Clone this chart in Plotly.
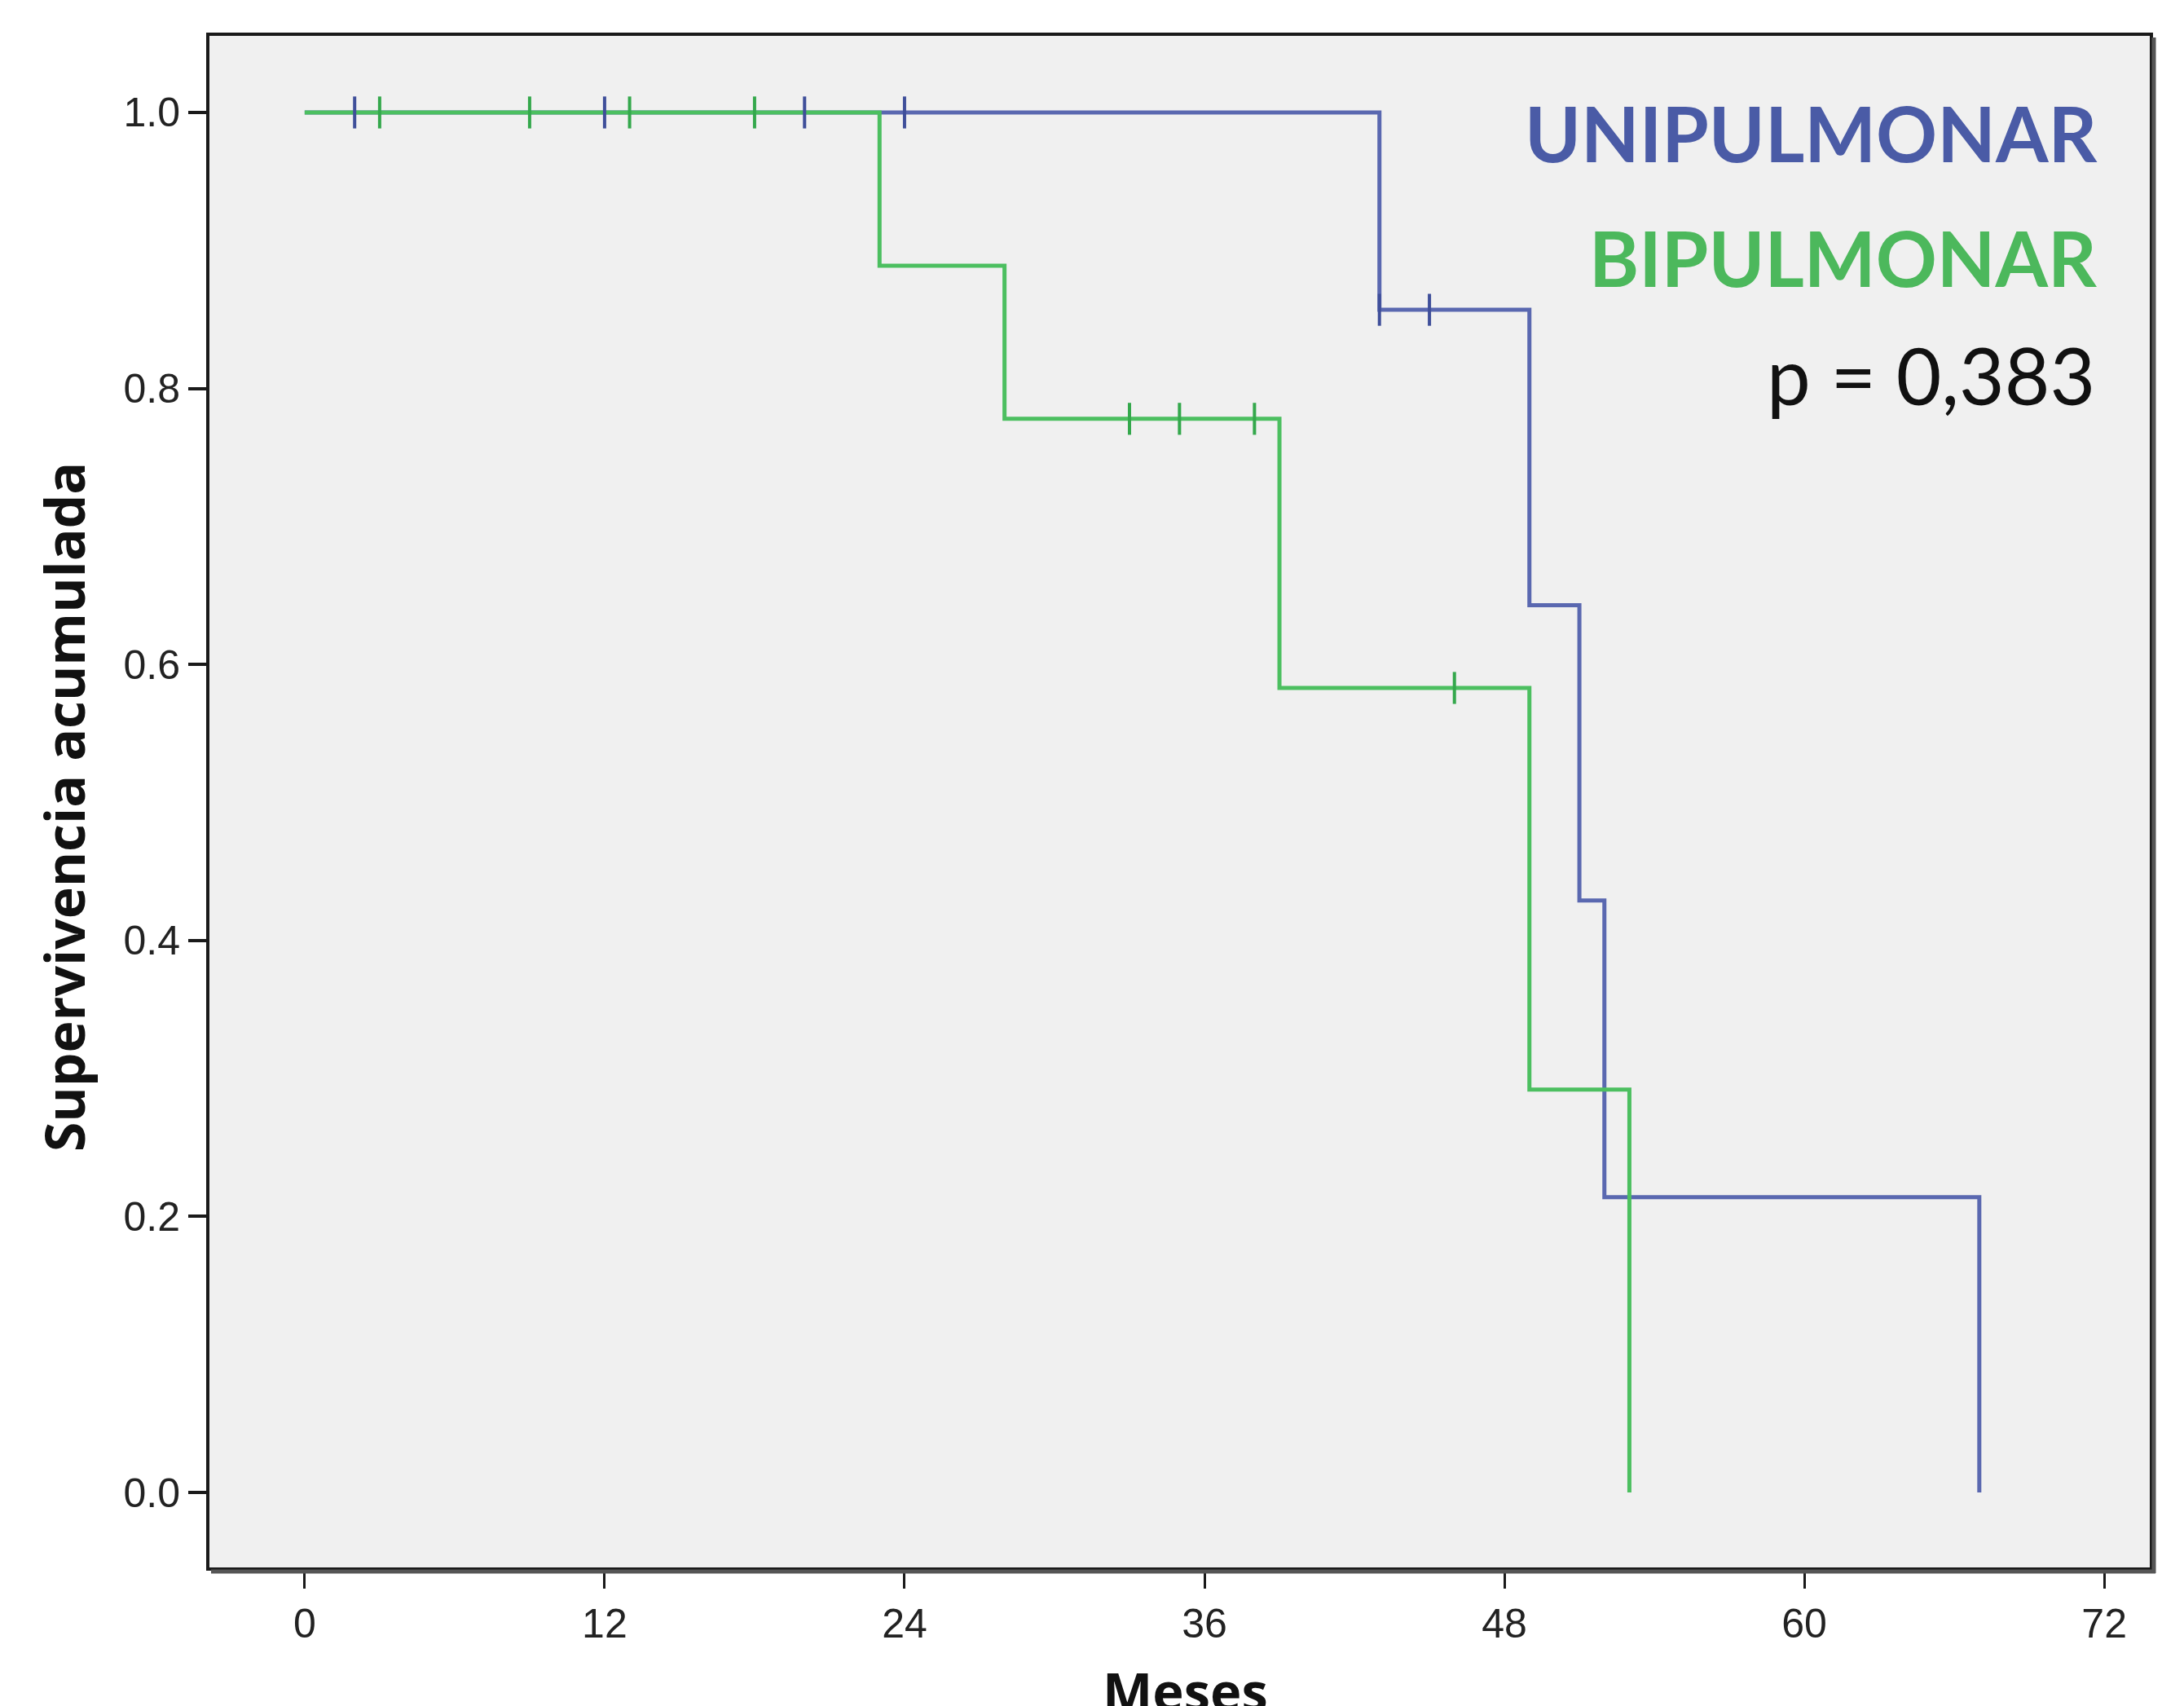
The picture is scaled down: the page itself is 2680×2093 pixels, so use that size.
import plotly.graph_objects as go

# ---- data ----
uni_time = [0, 43, 49, 51, 52, 67]
uni_surv = [1.0, 0.857, 0.643, 0.429, 0.214, 0.0]
uni_cens_time = [2, 12, 20, 24, 43, 45]
uni_cens_surv = [1.0, 1.0, 1.0, 1.0, 0.857, 0.857]

bi_time = [0, 23, 28, 39, 49, 53]
bi_surv = [1.0, 0.889, 0.778, 0.583, 0.292, 0.0]
bi_cens_time = [3, 9, 13, 18, 33, 35, 38, 46]
bi_cens_surv = [1.0, 1.0, 1.0, 1.0, 0.778, 0.778, 0.778, 0.583]

x_ticks = [0, 12, 24, 36, 48, 60, 72]
y_ticks = [0.0, 0.2, 0.4, 0.6, 0.8, 1.0]

label_uni = "UNIPULMONAR"
label_bi = "BIPULMONAR"
p_text = "p = 0,383"
x_title = "Meses"
y_title = "Supervivencia acumulada"

BLUE = "#5a68b0"
BLUE_DARK = "#3f4f9a"
GREEN = "#4cbf60"
GREEN_DARK = "#34a84c"

fig = go.Figure()
fig.add_trace(go.Scatter(x=uni_time, y=uni_surv, mode="lines", line_shape="hv",
                         line=dict(color=BLUE, width=5), showlegend=False, hoverinfo="skip"))
fig.add_trace(go.Scatter(x=bi_time, y=bi_surv, mode="lines", line_shape="hv",
                         line=dict(color=GREEN, width=5), showlegend=False, hoverinfo="skip"))
fig.add_trace(go.Scatter(x=uni_cens_time, y=uni_cens_surv, mode="markers",
                         marker=dict(symbol="line-ns", size=28, line=dict(color=BLUE_DARK, width=4)),
                         showlegend=False, hoverinfo="skip"))
fig.add_trace(go.Scatter(x=bi_cens_time, y=bi_cens_surv, mode="markers",
                         marker=dict(symbol="line-ns", size=28, line=dict(color=GREEN_DARK, width=4)),
                         showlegend=False, hoverinfo="skip"))

W, H = 2680, 2093
L, R, T, B = 249, 50, 36, 178
pw, ph = W - L - R, H - T - B

def px_x(px):
    return (px - L) / pw

def px_y(py):
    return 1 - (py - T) / ph

tick_font = dict(family="Liberation Sans, Arial, sans-serif", size=50, color="#222222")

fig.update_xaxes(range=[-3.81, 73.82], tickvals=x_ticks, ticktext=[str(v) for v in x_ticks],
                 showgrid=False, zeroline=False, showline=True, linecolor="#1a1a1a", linewidth=4,
                 mirror=True, ticks="outside", ticklen=22, tickwidth=3, tickcolor="#1a1a1a",
                 tickfont=tick_font)
fig.update_yaxes(range=[-0.0543, 1.0555], tickvals=y_ticks, ticktext=[f"{v:.1f}" for v in y_ticks],
                 showgrid=False, zeroline=False, showline=True, linecolor="#1a1a1a", linewidth=4,
                 mirror=True, ticks="outside", ticklen=22, tickwidth=4, tickcolor="#1a1a1a",
                 tickfont=tick_font)

# shadow on bottom and right border
fig.add_shape(type="line", xref="paper", yref="paper", x0=px_x(L + 2), x1=px_x(W - R + 7),
              y0=px_y(H - B + 5), y1=px_y(H - B + 5), line=dict(color="#555555", width=5))
fig.add_shape(type="line", xref="paper", yref="paper", x0=px_x(W - R + 5), x1=px_x(W - R + 5),
              y0=px_y(T + 2), y1=px_y(H - B + 7), line=dict(color="#555555", width=5))

fig.add_annotation(xref="paper", yref="paper", x=px_x(2567), y=px_y(155), xanchor="right", yanchor="middle",
                   text=f"<b>{label_uni}</b>", showarrow=False,
                   font=dict(family="Lato, Open Sans, sans-serif", size=93, color="#4a5ba6"))
fig.add_annotation(xref="paper", yref="paper", x=px_x(2567), y=px_y(308), xanchor="right", yanchor="middle",
                   text=f"<b>{label_bi}</b>", showarrow=False,
                   font=dict(family="Lato, Open Sans, sans-serif", size=93, color="#4cb85c"))
fig.add_annotation(xref="paper", yref="paper", x=px_x(2565), y=px_y(452), xanchor="right", yanchor="middle",
                   text=p_text, showarrow=False,
                   font=dict(family="Lato, Open Sans, sans-serif", size=96, color="#111111"))

fig.add_annotation(xref="paper", yref="paper", x=px_x(70), y=px_y(982), xanchor="center", yanchor="middle",
                   text=f"<b>{y_title}</b>", textangle=-90, showarrow=False,
                   font=dict(family="Open Sans, sans-serif", size=66, color="#111111"))
fig.add_annotation(xref="paper", yref="paper", x=px_x(1446), y=px_y(2020), xanchor="center", yanchor="top",
                   text=f"<b>{x_title}</b>", showarrow=False,
                   font=dict(family="Open Sans, sans-serif", size=65, color="#111111"))

fig.update_layout(width=W, height=H, margin=dict(l=L, r=R, t=T, b=B, autoexpand=False),
                  paper_bgcolor="white", plot_bgcolor="#f0f0f0", showlegend=False)

fig.write_html("out.html")
